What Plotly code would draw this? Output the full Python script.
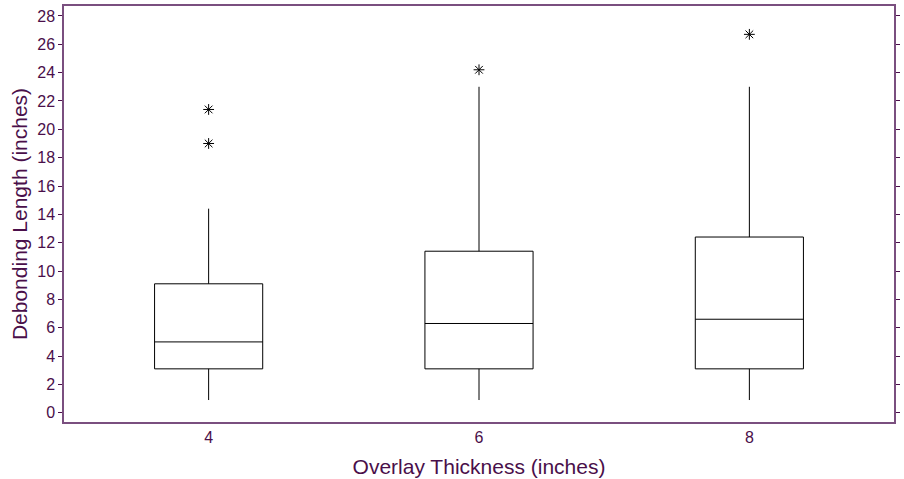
import plotly.graph_objects as go

# Overlay thickness groups and box statistics of debonding length (inches)
thickness = [4, 6, 8]
lower_whisker = [0.9, 0.9, 0.9]
q1 = [3.1, 3.1, 3.1]
median = [5.0, 6.3, 6.6]
q3 = [9.1, 11.4, 12.4]
upper_whisker = [14.4, 23.0, 23.0]

# Outlying observations
outlier_x = [4, 4, 6, 8]
outlier_y = [21.4, 19.0, 24.2, 26.7]

y_ticks = list(range(0, 29, 2))

axis_color = "#7a4f7f"
text_color = "#4a0f4a"

fig = go.Figure()
fig.add_trace(go.Box(
    x=thickness,
    q1=q1,
    median=median,
    q3=q3,
    lowerfence=lower_whisker,
    upperfence=upper_whisker,
    width=0.8,
    fillcolor="white",
    line=dict(color="black", width=1),
    whiskerwidth=0,
    boxpoints=False,
    hoverinfo="y",
    showlegend=False,
))
fig.add_trace(go.Scatter(
    x=outlier_x,
    y=outlier_y,
    mode="markers",
    marker=dict(symbol="asterisk-open", size=9, color="black",
                line=dict(color="black", width=1)),
    showlegend=False,
))

fig.update_layout(
    width=904,
    height=479,
    margin=dict(l=64, r=8, t=4, b=57),
    paper_bgcolor="white",
    plot_bgcolor="white",
    font=dict(family="Liberation Sans, Arial, sans-serif", color=text_color),
    xaxis=dict(
        range=[2.93, 9.07],
        tickvals=thickness,
        ticktext=[str(t) for t in thickness],
        showgrid=False,
        zeroline=False,
        showline=True,
        linecolor=axis_color,
        linewidth=1.5,
        mirror=True,
        ticks="",
        tickfont=dict(size=16, color=text_color),
        title=dict(text="Overlay Thickness (inches)", font=dict(size=21, color=text_color), standoff=14),
    ),
    yaxis=dict(
        range=[-0.65, 28.7],
        tickvals=y_ticks,
        showgrid=False,
        zeroline=False,
        showline=True,
        linecolor=axis_color,
        linewidth=1.5,
        mirror="ticks",
        ticks="outside",
        ticklen=4,
        tickcolor=text_color,
        tickfont=dict(size=16, color=text_color),
        title=dict(text="Debonding Length (inches)", font=dict(size=21, color=text_color), standoff=4),
    ),
)

fig.write_html("out.html")
